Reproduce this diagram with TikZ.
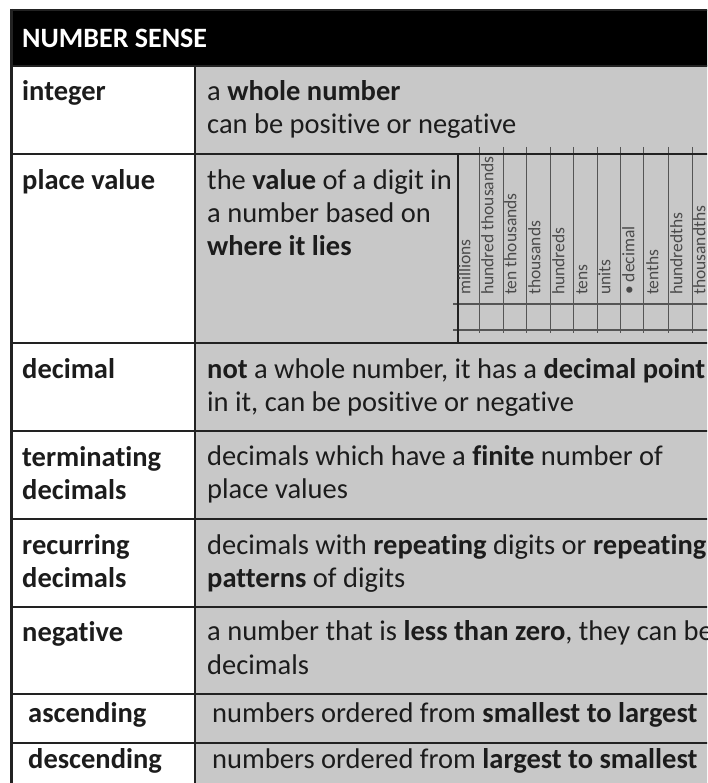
\documentclass[tikz,border=0pt]{standalone}
\usepackage{fontspec}
\setmainfont[Ligatures=NoCommon]{Carlito}
\definecolor{ink}{HTML}{1C1C1C}
\definecolor{linecol}{HTML}{222222}
\definecolor{cellgray}{HTML}{C8C8C8}
\definecolor{pvgray}{HTML}{4A4A4A}
\definecolor{pvline}{HTML}{555555}
\begin{document}
\begin{tikzpicture}[x=1pt,y=-1pt,
  term/.style={anchor=base west, inner sep=0pt, font=\fontsize{28.5}{33}\selectfont\bfseries, text=ink},
  defn/.style={anchor=base west, inner sep=0pt, font=\fontsize{28.5}{33}\selectfont, text=ink},
  headtext/.style={anchor=base west, inner sep=0pt, font=\fontsize{28}{33}\selectfont\bfseries, text=white},
  pvlabel/.style={anchor=mid west, rotate=90, inner sep=0pt, font=\fontsize{17.5}{17.5}\selectfont, text=pvgray},
  rowrule/.style={draw=linecol, line width=2.6pt},
  pvthin/.style={draw=pvline, line width=1pt},
  pvthick/.style={draw=linecol, line width=2.4pt}]
\useasboundingbox (0,0) rectangle (707,783);
\fill[white] (0,0) rectangle (707,783);
\clip (0,0) rectangle (707,783);
% fills
\fill[black] (11,10) rectangle (720,66);
\fill[cellgray] (195,66) rectangle (720,800);
% place value chart
\foreach \x in {479,503,526,550,573,597,620,643,668,692}
  \draw[pvthin] (\x,147) -- (\x,333);
\draw[pvthin, line width=1.4pt] (453,304) -- (720,304);
\draw[pvthin, line width=1.4pt] (453,330) -- (720,330);
\draw[pvthick] (458,154) -- (458,343);
% rules
\foreach \y in {66,154,343,431,519,607,694,743}
  \draw[rowrule] (11,\y) -- (720,\y);
\draw[rowrule] (11,10) -- (720,10);
\draw[rowrule, line width=3pt] (11,9) -- (11,800);
\draw[rowrule] (195,66) -- (195,800);
% header
\node[headtext] (head) at (22,48) {NUMBER SENSE};
% terms
\node[term] (t1) at (22,101) {integer};
\node[term] (t2) at (22,190) {place value};
\node[term] (t3) at (22,378) {decimal};
\node[term] (t4a) at (22,466) {terminating};
\node[term] (t4b) at (22,499) {decimals};
\node[term] (t5a) at (22,554) {recurring};
\node[term] (t5b) at (22,587) {decimals};
\node[term] (t6) at (22,641) {negative};
\node[term] (t7) at (28,722) {ascending};
\node[term] (t8) at (28,768) {descending};
% definitions
\node[defn] (d1a) at (207,101) {a \textbf{whole number}};
\node[defn] (d1b) at (207,134) {can be positive or negative};
\node[defn] (d2a) at (207,190) {the \textbf{value} of a digit in};
\node[defn] (d2b) at (207,223) {a number based on};
\node[defn] (d2c) at (207,256) {\textbf{where it lies}};
\node[defn] (d3a) at (207,378) {\textbf{not} a whole number, it has a \textbf{decimal point}};
\node[defn] (d3b) at (207,411) {in it, can be positive or negative};
\node[defn] (d4a) at (207,465) {decimals which have a \textbf{finite} number of};
\node[defn] (d4b) at (207,498) {place values};
\node[defn] (d5a) at (207,554) {decimals with \textbf{repeating} digits or \textbf{repeating}};
\node[defn] (d5b) at (207,587) {\textbf{patterns} of digits};
\node[defn] (d6a) at (207,640) {a number that is \textbf{less than zero}, they can be};
\node[defn] (d6b) at (207,674) {decimals};
\node[defn] (d7) at (212,722) {numbers ordered from \textbf{smallest to largest}};
\node[defn] (d8) at (212,768) {numbers ordered from \textbf{largest to smallest}};
% place value labels
\node[pvlabel] (p1) at (468,295) {millions};
\node[pvlabel] (p2) at (491,295) {hundred thousands};
\node[pvlabel] (p3) at (514,295) {ten thousands};
\node[pvlabel] (p4) at (538,295) {thousands};
\node[pvlabel] (p5) at (562,295) {hundreds};
\node[pvlabel] (p6) at (585,295) {tens};
\node[pvlabel] (p7) at (608,295) {units};
\node[pvlabel] (p8) at (632,295) {• decimal};
\node[pvlabel] (p9) at (656,295) {tenths};
\node[pvlabel] (p10) at (680,295) {hundredths};
\node[pvlabel] (p11) at (703,295) {thousandths};
\end{tikzpicture}
\end{document}
